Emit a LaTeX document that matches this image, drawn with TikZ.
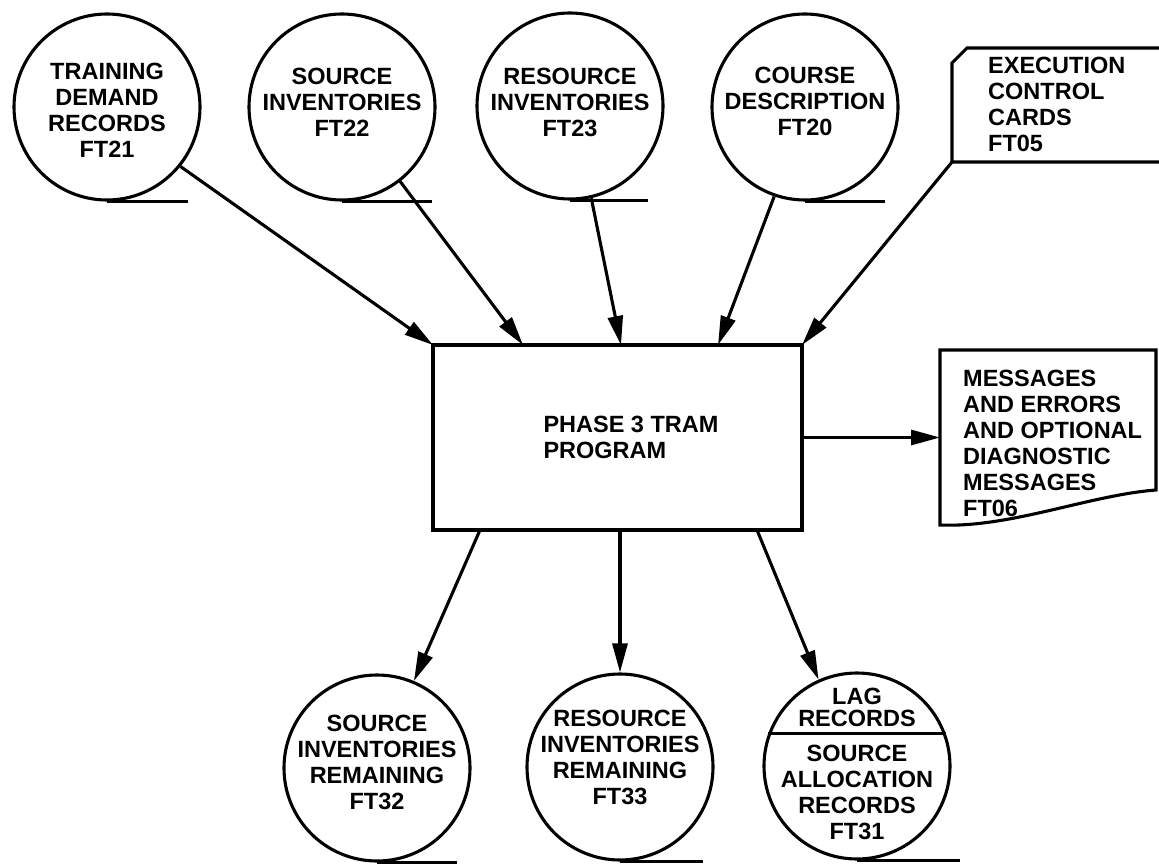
\documentclass[tikz,border=0pt]{standalone}
\usepackage{fontspec}
\setmainfont{Liberation Sans}
\usetikzlibrary{arrows.meta,calc}
\begin{document}
\begin{tikzpicture}[x=1pt,y=-1pt,
  ln/.style={line width=3.1pt},
  disk/.style={circle,draw,line width=3.1pt,minimum size=186pt,inner sep=0pt},
  txt/.style={font=\fontsize{23.5}{26}\selectfont\bfseries,align=center,inner sep=0pt},
  ltxt/.style={txt,align=left},
  flow/.style={line width=3.1pt,-{Triangle[length=29pt,width=15pt]}},
  tape/.style={line width=3.1pt},
  frame/.style={inner sep=0pt,outer sep=0pt,anchor=north west}]
\useasboundingbox[fill=white] (0,0) rectangle (1159,864);

% top input files
\node[disk] (c1) at (107,107) {};
\node[txt] (t1) at (107,110) {TRAINING\\DEMAND\\RECORDS\\FT21};
\node[disk] (c2) at (342,107) {};
\node[txt] (t2) at (342,102) {SOURCE\\INVENTORIES\\FT22};
\node[disk] (c3) at (570,106) {};
\node[txt] (t3) at (570,102) {RESOURCE\\INVENTORIES\\FT23};
\node[disk] (c4) at (805,107) {};
\node[txt] (t4) at (805,101) {COURSE\\DESCRIPTION\\FT20};
\draw[tape] (c1.south) -- ++(81,0);
\draw[tape] (c2.south) -- ++(90,0);
\draw[tape] (c3.south) -- ++(78,0);
\draw[tape] (c4.south) -- ++(80,0);

% card
\node[frame,minimum width=207pt,minimum height=114pt] (card) at (952,48) {};
\node[ltxt,anchor=west] (cardtxt) at (988,104) {EXECUTION\\CONTROL\\CARDS\\FT05};
\draw[ln] (card.north east) -- ($(card.north west)+(15,0)$) -- ($(card.north west)+(0,15)$)
  -- (card.south west) -- (card.south east);

% program box
\node[frame,draw,ln,minimum width=369pt,minimum height=185pt] (box) at (433,345) {};
\node[ltxt] (boxtxt) at (631,437) {PHASE 3 TRAM\\PROGRAM};

% document
\node[frame,minimum width=216pt,minimum height=175pt] (doc) at (940,350) {};
\node[ltxt,anchor=west] (doctxt) at (963,443) {MESSAGES\\AND ERRORS\\AND OPTIONAL\\DIAGNOSTIC\\MESSAGES\\FT06};
\draw[ln] (doc.south west) -- (doc.north west) -- (doc.north east) -- ($(doc.north east)+(0,140)$)
  .. controls (1090,495) and (1010,528) .. (doc.south west) -- cycle;

% bottom output files
\node[disk] (b1) at (377,768) {};
\node[txt] (u1) at (377,762) {SOURCE\\INVENTORIES\\REMAINING\\FT32};
\node[disk] (b2) at (620,767) {};
\node[txt] (u2) at (620,757) {RESOURCE\\INVENTORIES\\REMAINING\\FT33};
\node[disk] (b3) at (857,766) {};
\node[txt,font=\fontsize{23.5}{22}\selectfont\bfseries] (u3a) at (857,707) {LAG\\RECORDS};
\node[txt] (u3b) at (857,792) {SOURCE\\ALLOCATION\\RECORDS\\FT31};
\draw[ln] (b3.160) -- (b3.20);
\draw[tape] (b1.south) -- ++(80,0);
\draw[tape] (b2.south) -- ++(83,0);
\draw[tape] (b3.south) -- ++(103,0);

% connectors
\draw[flow] (c1.-39) -- (box.north west);
\draw[flow] (c2.-52) -- ($(box.north west)+(90,0)$);
\draw[flow] (c3.-77) -- ($(box.north)+(3.5,0)$);
\draw[flow] (c4.-109) -- ($(box.north east)+(-84,0)$);
\draw[flow] (card.south west) -- (box.north east);
\draw[flow] (box.east) -- (doc.west);
\draw[flow] ($(box.south west)+(47,0)$) -- (b1.67);
\draw[flow] ($(box.south)+(2.5,0)$) -- (b2.90);
\draw[flow] ($(box.south east)+(-45,0)$) -- (b3.114);
\end{tikzpicture}
\end{document}
